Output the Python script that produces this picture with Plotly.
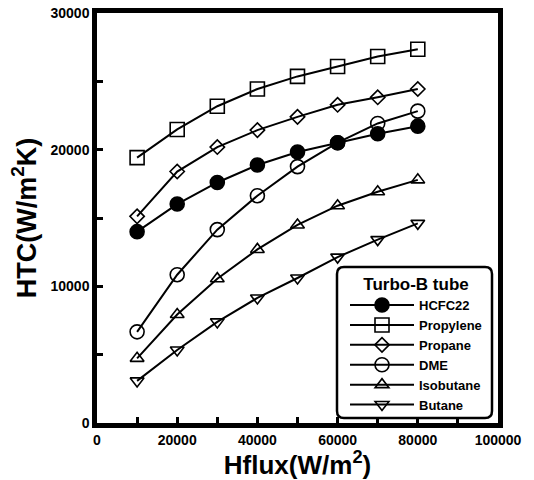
import plotly.graph_objects as go

hflux = [10000, 20000, 30000, 40000, 50000, 60000, 70000, 80000]

hcfc22 = [14000, 16020, 17600, 18880, 19830, 20510, 21170, 21720]
propylene = [19420, 21480, 23180, 24440, 25360, 26090, 26820, 27350]
propane = [15120, 18400, 20190, 21430, 22400, 23280, 23830, 24440]
dme = [6670, 10850, 14150, 16630, 18760, 20510, 21920, 22820]
isobutane = [4730, 7940, 10560, 12700, 14490, 15900, 16920, 17790]
butane = [3080, 5340, 7400, 9150, 10610, 12140, 13420, 14610]

series_names = ["HCFC22", "Propylene", "Propane", "DME", "Isobutane", "Butane"]
series_values = [hcfc22, propylene, propane, dme, isobutane, butane]
symbols = ["circle", "square-open", "diamond-open", "circle-open", "triangle-up-open", "triangle-down-open"]
sizes = [14, 14, 11, 14, 12, 12]

x_ticks = [0, 20000, 40000, 60000, 80000, 100000]
y_ticks = [0, 10000, 20000, 30000]

FONT = "Liberation Sans, Arial, Helvetica, sans-serif"

fig = go.Figure()
for name, vals, sym, sz in zip(series_names, series_values, symbols, sizes):
    fig.add_trace(go.Scatter(
        x=hflux, y=vals, name=name, mode="lines+markers",
        line=dict(color="black", width=2),
        marker=dict(symbol=sym, size=sz, color="black",
                    line=dict(color="black", width=1.6)),
    ))

L, R, T, B = 97, 36, 13, 57
W, H = 534, 480
pw, ph = W - L - R, H - T - B

# legend box (rounded rectangle) in paper coords
bx0, bx1 = (337 - L) / pw, (492 - L) / pw
by1, by0 = (H - B - 267) / ph, (H - B - 418) / ph
rx, ry = 7 / pw, 7 / ph
path = (f"M{bx0+rx},{by1} L{bx1-rx},{by1} Q{bx1},{by1} {bx1},{by1-ry} "
        f"L{bx1},{by0+ry} Q{bx1},{by0} {bx1-rx},{by0} L{bx0+rx},{by0} "
        f"Q{bx0},{by0} {bx0},{by0+ry} L{bx0},{by1-ry} Q{bx0},{by1} {bx0+rx},{by1} Z")
fig.add_shape(type="path", path=path, xref="paper", yref="paper",
              line=dict(color="black", width=2.5), fillcolor="white", layer="above")

axis_common = dict(
    showgrid=False, zeroline=False, showline=True, linecolor="black",
    linewidth=4.5, mirror=True, ticks="inside", tickcolor="black",
    tickwidth=3, ticklen=6, automargin=False,
    tickfont=dict(family=FONT, size=14, color="black", weight="bold"),
)

fig.update_xaxes(
    range=[0, 100000], tickvals=x_ticks, ticktext=[str(v) for v in x_ticks],
    minor=dict(dtick=10000, ticks="inside", ticklen=6, tickwidth=3, tickcolor="black"),
    title=dict(text="Hflux(W/m<sup>2</sup>)", standoff=2,
               font=dict(family=FONT, size=26, color="black", weight="bold")),
    **axis_common,
)
fig.update_yaxes(
    range=[0, 30000], tickvals=y_ticks, ticktext=[str(v) for v in y_ticks],
    minor=dict(dtick=5000, ticks="inside", ticklen=6, tickwidth=3, tickcolor="black"),
    title=dict(text="HTC(W/m<sup>2</sup>K)", standoff=8,
               font=dict(family=FONT, size=27, color="black", weight="bold")),
    **axis_common,
)

fig.update_layout(
    width=W, height=H,
    margin=dict(l=L, r=R, t=T, b=B, autoexpand=False),
    plot_bgcolor="white", paper_bgcolor="white",
    font=dict(family=FONT, color="black"),
    showlegend=True,
    legend=dict(
        x=(416 - L) / pw, xanchor="center",
        y=(H - B - 268) / ph, yanchor="top",
        bgcolor="rgba(0,0,0,0)", borderwidth=0,
        font=dict(family=FONT, size=13, color="black", weight="bold"),
        title=dict(text="Turbo-B tube", side="top center",
                   font=dict(family=FONT, size=17, color="black", weight="bold")),
        itemwidth=64, tracegroupgap=0,
    ),
)

fig.write_html("out.html",
               config={"displayModeBar": False},
               post_script="document.body.style.margin='0';document.body.style.padding='0';")
